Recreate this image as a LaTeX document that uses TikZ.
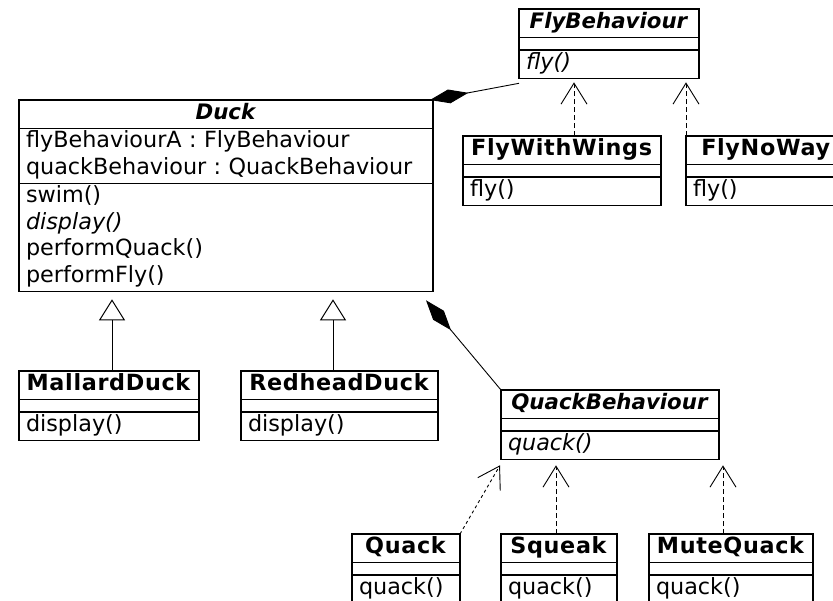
\documentclass[tikz,border=0pt]{standalone}
\usepackage{fontspec}
\setmainfont{DejaVu Sans}
\usetikzlibrary{shapes.multipart,arrows.meta}
\frenchspacing

% 类名: 具体类与抽象类
\newcommand{\cname}[1]{\strut\hbox to\hsize{\hss\addfontfeatures{LetterSpace=3}\textbf{#1}\hss}}
\newcommand{\aname}[1]{\strut\hbox to\hsize{\hss\fontsize{21.3}{26.6}\selectfont\textbf{\textit{#1}}\hss}}

\tikzset{
  umlclass/.style={draw, line width=1.3pt, rectangle split, rectangle split parts=3,
    rectangle split empty part height=11pt, rectangle split empty part depth=0pt,
    inner xsep=7pt, inner ysep=0.2pt, outer sep=0pt, align=left,
    anchor=north west, font=\fontsize{22.3}{26.6}\selectfont},
  compose/.style={line width=0.9pt, -{Diamond[length=39pt,width=14pt]}},
  inherit/.style={line width=1pt, -{Triangle[open,length=21pt,width=26pt]}},
  realize/.style={line width=0.9pt, dash pattern=on 5pt off 3pt,
    -{Straight Barb[length=21pt,width=26pt]}},
}

\begin{document}
\begin{tikzpicture}[x=1pt,y=-1pt]
  \useasboundingbox (0,0) rectangle (833,600);
  % 鸭子
  \node[umlclass, text width=400pt] (duck) at (19,100)
    {\aname{Duck}
     \nodepart{two}\strut flyBehaviourA : FlyBehaviour\\quackBehaviour : QuackBehaviour\strut
     \nodepart{three}\strut swim()\\\textit{display()}\\performQuack()\\performFly()\strut};
  \node[umlclass, text width=166pt] (mallard) at (19,371)
    {\cname{MallardDuck}\nodepart{three}\strut display()};
  \node[umlclass, text width=183pt] (redhead) at (241,371)
    {\cname{RedheadDuck}\nodepart{three}\strut display()};
  % 飞行行为
  \node[umlclass, text width=166pt] (flyb) at (519,9)
    {\aname{FlyBehaviour}\nodepart{three}\strut\textit{fly()}};
  \node[umlclass, text width=184pt] (fww) at (463,136)
    {\cname{FlyWithWings}\nodepart{three}\strut fly()};
  \node[umlclass, text width=146pt] (fnw) at (686,136)
    {\cname{FlyNoWay}\nodepart{three}\strut fly()};
  % 叫声行为
  \node[umlclass, text width=204pt] (qb) at (501,390)
    {\aname{QuackBehaviour}\nodepart{three}\strut\textit{quack()}};
  \node[umlclass, text width=94pt] (quack) at (352,534)
    {\cname{Quack}\nodepart{three}\strut quack()};
  \node[umlclass, text width=102pt] (squeak) at (501,534)
    {\cname{Squeak}\nodepart{three}\strut quack()};
  \node[umlclass, text width=150pt] (mute) at (649,534)
    {\cname{MuteQuack}\nodepart{three}\strut quack()};
  % 组合
  \draw[compose] ([yshift=-5pt]flyb.south west) -- ([xshift=-3pt]duck.north east);
  \draw[compose] (qb.north west) -- ([xshift=-7pt,yshift=-9pt]duck.south east);
  % 继承
  \draw[inherit] ([xshift=3pt]mallard.north) -- ([xshift=-114pt,yshift=-8pt]duck.south);
  \draw[inherit] ([xshift=-6.5pt]redhead.north) -- ([xshift=107pt,yshift=-8pt]duck.south);
  % 实现
  \draw[realize] ([xshift=12pt]fww.north) -- ([xshift=-35pt,yshift=-4pt]flyb.south);
  \draw[realize] (fnw.north west) -- ([xshift=-13pt,yshift=-4pt]flyb.south east);
  \draw[realize, dash pattern=on 3pt off 3pt] (quack.north east) -- ([xshift=-1pt,yshift=-6pt]qb.south west);
  \draw[realize] ([xshift=-3pt]squeak.north) -- ([xshift=-54pt,yshift=-6pt]qb.south);
  \draw[realize] ([xshift=-8pt]mute.north) -- ([xshift=4pt,yshift=-6pt]qb.south east);
\end{tikzpicture}
\end{document}
